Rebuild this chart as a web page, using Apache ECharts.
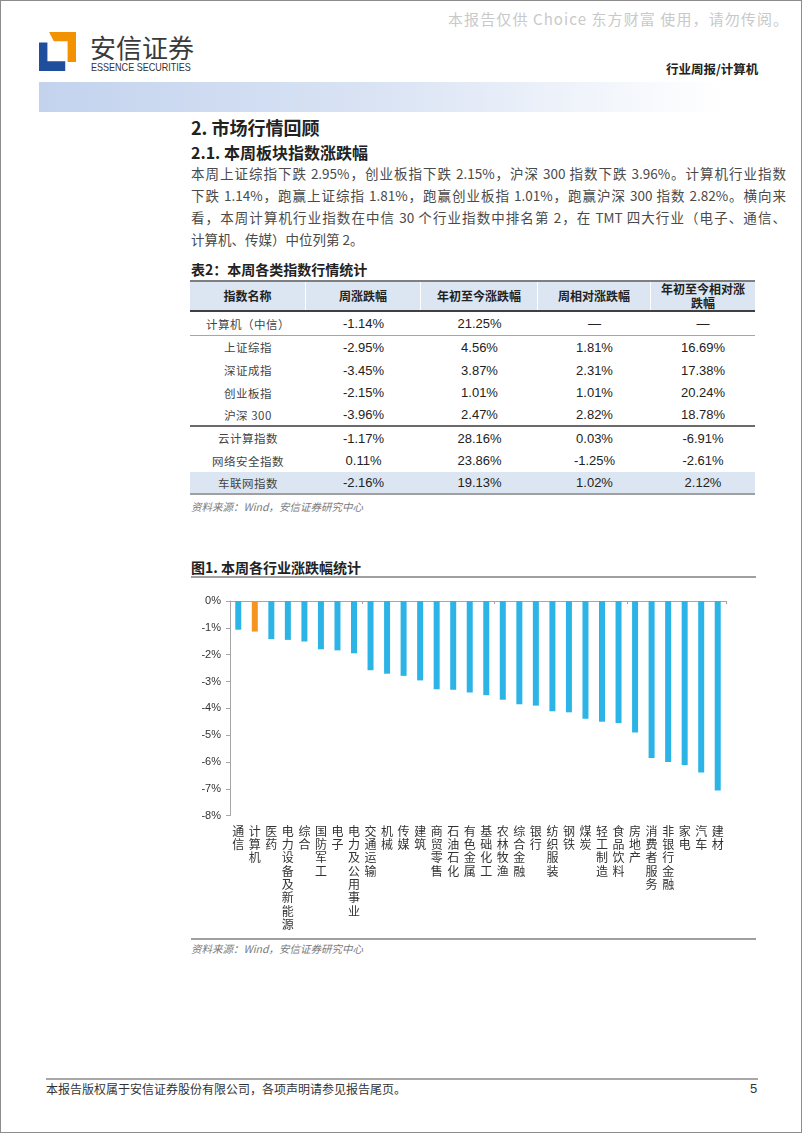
<!DOCTYPE html>
<html><head><meta charset="utf-8">
<script src="https://cdn.jsdelivr.net/npm/echarts@6/dist/echarts.min.js"></script>
<style>
html,body{margin:0;padding:0;background:#fff;}
#page{position:relative;width:802px;height:1133px;box-sizing:border-box;border:1px solid #8c8c8c;overflow:hidden;font-family:"Noto Sans CJK SC","Noto Sans",sans-serif;color:#333;}
.abs{position:absolute;white-space:nowrap;}
.para{position:absolute;left:190px;width:595px;font-size:13.5px;line-height:22px;color:#4a4a4a;text-align:justify;text-align-last:justify;white-space:nowrap;}
.row{display:flex;box-sizing:border-box;width:565px;}
.cell{flex:none;display:flex;align-items:center;justify-content:center;box-sizing:border-box;white-space:normal;}
.num{font-family:"Liberation Sans",Arial,sans-serif;font-size:13px;color:#222;}
.nm{font-size:11.5px;color:#444;letter-spacing:0.5px;}
.hd{font-size:12px;font-weight:bold;color:#222;text-align:center;line-height:14.5px;border-right:1px solid #fff;}
</style></head>
<body>
<div id="page">
  <div class="abs" style="left:447px;top:9px;font-size:15px;line-height:18px;color:#c9c9c9;letter-spacing:1.1px;">本报告仅供 Choice 东方财富 使用，请勿传阅。</div>
  <svg class="abs" style="left:38px;top:31px;" width="37" height="39" viewBox="0 0 110 100" preserveAspectRatio="none">
    <polygon points="0,27 25,27 25,75 78,75 78,100 0,100" fill="#1f4e9c"/>
    <polygon points="30,0 110,0 110,77 85,77 85,24 44,24" fill="#f39200"/>
  </svg>
  <div class="abs" style="left:89px;top:31px;font-size:26px;line-height:30px;color:#3a3a3a;">安信证券</div>
  <div class="abs" style="left:90px;top:60px;font-size:10.5px;line-height:12px;color:#333;font-family:'Liberation Sans',Arial,sans-serif;transform:scaleX(0.86);transform-origin:left center;">ESSENCE SECURITIES</div>
  <div class="abs" style="left:665px;top:61px;font-size:12.5px;line-height:14px;font-weight:bold;color:#222;">行业周报/计算机</div>
  <div class="abs" style="left:38px;top:81px;width:742px;height:30px;background:linear-gradient(to right,#c3d3ee 0%,#d9e3f4 45%,#ffffff 92%);"></div>

  <div class="abs" style="left:190px;top:115px;font-size:18px;line-height:22px;font-weight:bold;color:#222;">2. 市场行情回顾</div>
  <div class="abs" style="left:190px;top:142px;font-size:16px;line-height:18px;font-weight:bold;color:#222;">2.1. 本周板块指数涨跌幅</div>
  <div class="para" style="top:161px;">本周上证综指下跌 2.95%，创业板指下跌 2.15%，沪深 300 指数下跌 3.96%。计算机行业指数</div>
  <div class="para" style="top:183px;">下跌 1.14%，跑赢上证综指 1.81%，跑赢创业板指 1.01%，跑赢沪深 300 指数 2.82%。横向来</div>
  <div class="para" style="top:205px;">看，本周计算机行业指数在中信 30 个行业指数中排名第 2，在 TMT 四大行业（电子、通信、</div>
  <div class="para" style="top:227px;text-align-last:left;">计算机、传媒）中位列第 2。</div>

  <div class="abs" style="left:190px;top:259px;font-size:14px;line-height:18px;font-weight:bold;color:#222;">表2：本周各类指数行情统计</div>
  <div id="tbl" class="abs" style="left:189px;top:279px;"></div>
  <div class="abs" style="left:190px;top:499px;font-size:10.5px;line-height:14px;font-style:italic;color:#7a7a7a;">资料来源：Wind，安信证券研究中心</div>

  <div class="abs" style="left:190px;top:557px;font-size:14px;line-height:18px;font-weight:bold;color:#222;">图1. 本周各行业涨跌幅统计</div>
  <div class="abs" style="left:190px;top:575px;width:565px;height:0;border-top:2px solid #a0a0a0;"></div>
  <div id="chart" class="abs" style="left:180px;top:585px;width:580px;height:345px;"></div>
  <div class="abs" style="left:190px;top:937px;width:565px;height:0;border-top:2.5px solid #a0a0a0;"></div>
  <div class="abs" style="left:190px;top:941px;font-size:10.5px;line-height:14px;font-style:italic;color:#7a7a7a;">资料来源：Wind，安信证券研究中心</div>

  <div class="abs" style="left:45px;top:1077px;width:712px;height:0;border-top:2px solid #a8a8a8;"></div>
  <div class="abs" style="left:45px;top:1081px;font-size:12px;line-height:14px;color:#333;">本报告版权属于安信证券股份有限公司，各项声明请参见报告尾页。</div>
  <div class="abs" style="left:749px;top:1080px;font-size:13px;line-height:15px;color:#333;font-family:'Liberation Sans',Arial,sans-serif;">5</div>
</div>
<script>
// ---- bar chart data ----
const categories = ['通信','计算机','医药','电力设备及新能源','综合','国防军工','电子','电力及公用事业','交通运输','机械','传媒','建筑','商贸零售','石油石化','有色金属','基础化工','农林牧渔','综合金融','银行','纺织服装','钢铁','煤炭','轻工制造','食品饮料','房地产','消费者服务','非银行金融','家电','汽车','建材'];
const weeklyChange = [-1.07,-1.14,-1.42,-1.45,-1.51,-1.80,-1.84,-1.95,-2.58,-2.71,-2.79,-2.96,-3.29,-3.31,-3.41,-3.51,-3.68,-3.85,-3.90,-4.11,-4.15,-4.39,-4.50,-4.55,-4.90,-5.85,-6.00,-6.11,-6.39,-7.06];
const highlightCategory = '计算机';
const yTicks = {min:-8, max:0, interval:1};

// ---- table data ----
const tableHeaders = ['指数名称','周涨跌幅','年初至今涨跌幅','周相对涨跌幅','年初至今相对涨跌幅'];
const indexNames = ['计算机（中信）','上证综指','深证成指','创业板指','沪深 300','云计算指数','网络安全指数','车联网指数'];
const weekChg = ['-1.14%','-2.95%','-3.45%','-2.15%','-3.96%','-1.17%','0.11%','-2.16%'];
const ytdChg = ['21.25%','4.56%','3.87%','1.01%','2.47%','28.16%','23.86%','19.13%'];
const weekRel = ['—','1.81%','2.31%','1.01%','2.82%','0.03%','-1.25%','1.02%'];
const ytdRel = ['—','16.69%','17.38%','20.24%','18.78%','-6.91%','-2.61%','2.12%'];

// build table
(function(){
  const widths=[116,115,117,113,104];
  const rowH=[24,22.75,22.75,22.75,22.75,22.67,22.67,22.67];
  const tbl=document.getElementById('tbl');
  let h='<div class="row" style="height:32px;background:#dce6f2;border-top:2px solid #7f7f7f;border-bottom:2px solid #404040;">';
  tableHeaders.forEach((t,i)=>{h+='<div class="cell hd" style="width:'+widths[i]+'px;padding:0 9px;'+(i==4?'border-right:none;':'')+'">'+t+'</div>';});
  h+='</div>';
  indexNames.forEach((n,r)=>{
    let st='height:'+rowH[r]+'px;';
    if(r===0) st+='border-bottom:1.5px solid #a6a6a6;';
    if(r===4) st+='border-bottom:2.5px solid #6b6b6b;';
    if(r===7) st+='background:#dce6f2;border-bottom:2px solid #a0a0a0;';
    h+='<div class="row" style="'+st+'">';
    const vals=[n,weekChg[r],ytdChg[r],weekRel[r],ytdRel[r]];
    vals.forEach((v,i)=>{h+='<div class="cell '+(i==0?'nm':'num')+'" style="width:'+widths[i]+'px;white-space:nowrap;">'+v+'</div>';});
    h+='</div>';
  });
  tbl.innerHTML=h;
})();

// build chart
const chart = echarts.init(document.getElementById('chart'), null, {renderer:'canvas'});
chart.setOption({
  animation:false,
  grid:{left:49, top:15, width:496, height:220},
  xAxis:[
    {type:'category', data:categories, position:'top', boundaryGap:true,
     axisLine:{show:true, onZero:true, lineStyle:{color:'#a6a6a6', width:1}},
     axisTick:{show:true, inside:true, length:3, lineStyle:{color:'#b59a9a'}},
     axisLabel:{show:false}, splitLine:{show:false}},
    {type:'category', data:categories, position:'bottom', boundaryGap:true,
     axisLine:{show:false, onZero:false}, axisTick:{show:false}, splitLine:{show:false},
     axisLabel:{show:true, interval:0, margin:9, fontSize:12, lineHeight:13.3, color:'#333',
       fontFamily:'Noto Sans CJK SC', verticalAlign:'top',
       formatter:v=>v.split('').join('\n')}}
  ],
  yAxis:{type:'value', min:yTicks.min, max:yTicks.max, interval:yTicks.interval,
    axisLine:{show:true, lineStyle:{color:'#a6a6a6'}},
    axisTick:{show:true, length:4, lineStyle:{color:'#a6a6a6'}},
    splitLine:{show:false},
    axisLabel:{formatter:'{value}%', fontSize:11, color:'#333', fontFamily:'Liberation Sans, Arial, sans-serif', margin:9}},
  series:[{type:'bar', xAxisIndex:0, barWidth:6,
    data:categories.map((c,i)=>({value:weeklyChange[i], itemStyle:{color: c===highlightCategory ? '#f5941e' : '#2db4e6'}}))}]
});
</script>
</body></html>
